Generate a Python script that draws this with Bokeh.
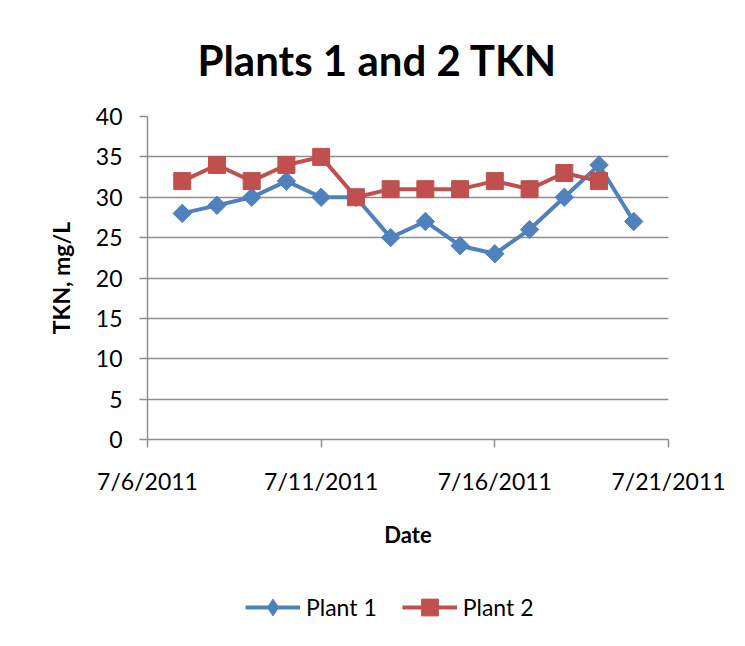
from datetime import datetime
from bokeh.plotting import figure
from bokeh.layouts import column
from bokeh.models import (ColumnDataSource, FixedTicker, Legend, LegendItem, Title, Range1d)
from bokeh.embed import file_html
from bokeh.resources import INLINE
import math

dates1 = ["2011-07-07", "2011-07-08", "2011-07-09", "2011-07-10", "2011-07-11", "2011-07-12",
          "2011-07-13", "2011-07-14", "2011-07-15", "2011-07-16", "2011-07-17", "2011-07-18",
          "2011-07-19", "2011-07-20"]
plant1 = [28, 29, 30, 32, 30, 30, 25, 27, 24, 23, 26, 30, 34, 27]
dates2 = ["2011-07-07", "2011-07-08", "2011-07-09", "2011-07-10", "2011-07-11", "2011-07-12",
          "2011-07-13", "2011-07-14", "2011-07-15", "2011-07-16", "2011-07-17", "2011-07-18",
          "2011-07-19"]
plant2 = [32, 34, 32, 34, 35, 30, 31, 31, 31, 32, 31, 33, 32]
tick_dates = ["2011-07-06", "2011-07-11", "2011-07-16", "2011-07-21"]
tick_labels = ["7/6/2011", "7/11/2011", "7/16/2011", "7/21/2011"]
y_ticks = [0, 5, 10, 15, 20, 25, 30, 35, 40]
series_names = ["Plant 1", "Plant 2"]

def ms(s):
    return (datetime.strptime(s, "%Y-%m-%d") - datetime(1970, 1, 1)).total_seconds() * 1000.0

src1 = ColumnDataSource(dict(x=[ms(d) for d in dates1], y=plant1))
src2 = ColumnDataSource(dict(x=[ms(d) for d in dates2], y=plant2))
tvals = [ms(d) for d in tick_dates]

FONT = "Lato"
GRID = "#8e8e8e"
BLUE = "#4F81BD"
RED = "#C0504D"
W = 729
TICK_FS = "23px"
AXL_FS_X = "22px"
AXL_FS_Y = "23px"

p = figure(width=W, height=580, output_backend="svg", toolbar_location=None,
           x_range=(tvals[0], tvals[-1]), y_range=(0, 40),
           min_border_left=147, min_border_right=W - 147 - 521, min_border_top=115,
           min_border_bottom=580 - 115 - 324,
           background_fill_color="white", border_fill_color="white")
p.outline_line_color = None
p.xgrid.grid_line_color = None
p.ygrid.grid_line_color = GRID
p.ygrid.grid_line_width = 1.5
p.ygrid.ticker = FixedTicker(ticks=y_ticks)

p.xaxis.ticker = FixedTicker(ticks=tvals)
p.xaxis.major_label_overrides = {tvals[i]: tick_labels[i] for i in range(len(tvals))}
p.xaxis.minor_tick_line_color = None
p.xaxis.major_tick_in = 0
p.xaxis.major_tick_out = 8
p.xaxis.axis_line_color = GRID
p.xaxis.axis_line_width = 1.5
p.xaxis.major_tick_line_color = GRID
p.xaxis.major_tick_line_width = 1.5
p.xaxis.major_label_text_font = FONT
p.xaxis.major_label_text_font_size = TICK_FS
p.xaxis.major_label_text_color = "black"
p.xaxis.major_label_standoff = 19
p.xaxis.axis_label = "Date"
p.xaxis.axis_label_text_font = FONT
p.xaxis.axis_label_text_font_style = "bold"
p.xaxis.axis_label_text_font_size = AXL_FS_X
p.xaxis.axis_label_text_color = "black"
p.xaxis.axis_label_standoff = 23

p.yaxis.ticker = FixedTicker(ticks=y_ticks)
p.yaxis.minor_tick_line_color = None
p.yaxis.major_tick_in = 0
p.yaxis.major_tick_out = 8
p.yaxis.axis_line_color = GRID
p.yaxis.axis_line_width = 1.5
p.yaxis.major_tick_line_color = GRID
p.yaxis.major_tick_line_width = 1.5
p.yaxis.major_label_text_font = FONT
p.yaxis.major_label_text_font_size = TICK_FS
p.yaxis.major_label_text_color = "black"
p.yaxis.major_label_standoff = 17
p.yaxis.axis_label = "TKN, mg/L"
p.yaxis.axis_label_text_font = FONT
p.yaxis.axis_label_text_font_style = "bold"
p.yaxis.axis_label_text_font_size = AXL_FS_Y
p.yaxis.axis_label_text_color = "black"
p.yaxis.axis_label_standoff = 18

p.line("x", "y", source=src1, line_color=BLUE, line_width=4)
p.scatter("x", "y", source=src1, marker="square", size=13, angle=math.pi / 4,
          fill_color=BLUE, line_color=BLUE)
p.line("x", "y", source=src2, line_color=RED, line_width=4)
p.scatter("x", "y", source=src2, marker="square", size=17,
          fill_color=RED, line_color=RED)

title = Title(text="Plants 1 and 2 TKN", align="left", offset=50, standoff=64,
              text_font=FONT, text_font_style="bold", text_font_size="42px",
              text_color="black")
p.add_layout(title, "above")

# legend strip below the chart (its data lie outside its view; only the legend shows)
lg = figure(width=W, height=50, output_backend="svg", toolbar_location=None,
            x_range=Range1d(0, 1), y_range=Range1d(0, 1),
            x_axis_location=None, y_axis_location=None,
            min_border_left=147, min_border_right=W - 147 - 521, min_border_top=0,
            min_border_bottom=0,
            background_fill_color="white", border_fill_color="white")
lg.outline_line_color = None
lg.grid.grid_line_color = None
g1 = lg.line("x", "y", source=src1, line_color=BLUE, line_width=4)
h1 = lg.scatter("x", "y", source=src1, marker="diamond", size=17,
                fill_color=BLUE, line_color=BLUE)
g2 = lg.line("x", "y", source=src2, line_color=RED, line_width=4)
h2 = lg.scatter("x", "y", source=src2, marker="square", size=17,
                fill_color=RED, line_color=RED)
legend = Legend(items=[LegendItem(label=series_names[0], renderers=[g1, h1]),
                       LegendItem(label=series_names[1], renderers=[g2, h2])],
                orientation="horizontal", location=(98, 2),
                glyph_width=55, glyph_height=42, label_standoff=6, spacing=25,
                padding=0, margin=0, border_line_color=None, background_fill_alpha=0,
                label_text_font=FONT, label_text_font_size=TICK_FS, label_text_color="black")
lg.add_layout(legend, "center")

layout = column(p, lg, spacing=0)
open("out.html", "w").write(file_html(layout, INLINE))
